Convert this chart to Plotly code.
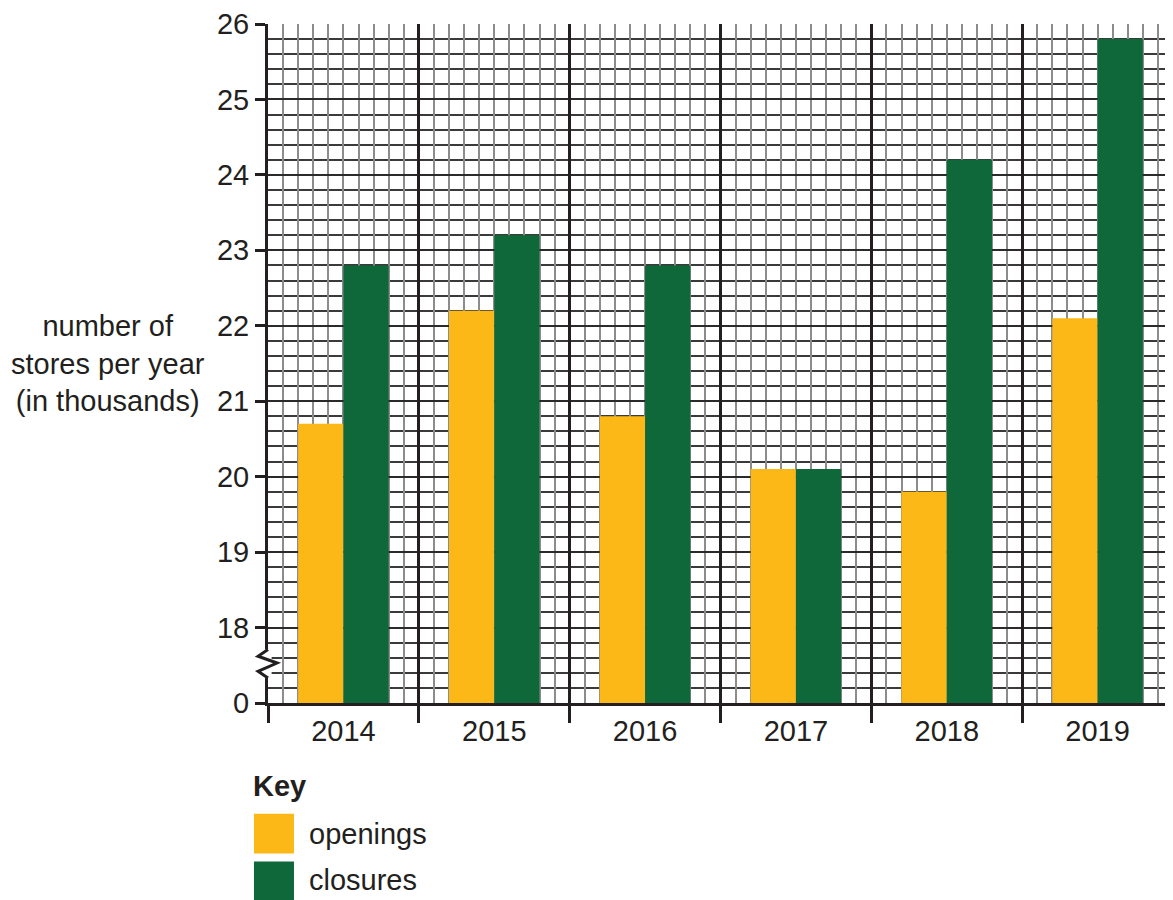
import plotly.graph_objects as go

years = ["2014", "2015", "2016", "2017", "2018", "2019"]
openings = [20.7, 22.2, 20.8, 20.1, 19.8, 22.1]
closures = [22.8, 23.2, 22.8, 20.1, 24.2, 25.8]
y_tickvals = [17, 18, 19, 20, 21, 22, 23, 24, 25, 26]
y_ticktext = ["0", "18", "19", "20", "21", "22", "23", "24", "25", "26"]

YELLOW = "#FBB817"
GREEN = "#0F6839"
INK = "#231F20"
FONT = "Liberation Sans, Arial, sans-serif"
FS = 29

fig = go.Figure()
fig.add_trace(go.Bar(x=years, y=openings, name="openings", marker=dict(color=YELLOW, line=dict(width=0)), showlegend=False))
fig.add_trace(go.Bar(x=years, y=closures, name="closures", marker=dict(color=GREEN, line=dict(width=0)), showlegend=False))

fig.update_layout(
    width=1165, height=892,
    margin=dict(l=260, r=0, t=14, b=197),
    paper_bgcolor="white", plot_bgcolor="white",
    barmode="group", bargap=0.4, bargroupgap=0,
    font=dict(family=FONT, size=FS, color=INK),
    xaxis=dict(
        type="category", showgrid=False, ticks="", showline=True, linecolor=INK, linewidth=3,
        tickfont=dict(size=FS, color=INK), ticklabelstandoff=0, zeroline=False,
    ),
    xaxis2=dict(
        overlaying="x", side="bottom", anchor="y", range=[-0.5, 5.5],
        tickmode="linear", tick0=-0.5, dtick=1, showticklabels=False,
        ticks="outside", ticklen=19, tickwidth=3, tickcolor=INK,
        showgrid=True, gridcolor=INK, gridwidth=2.5, zeroline=False, showline=False,
        minor=dict(tickmode="linear", tick0=-0.5, dtick=0.1, showgrid=True, gridcolor="#8C8C8C", gridwidth=1.6, ticks=""),
    ),
    yaxis=dict(
        range=[17, 26], tickmode="array", tickvals=y_tickvals, ticktext=y_ticktext,
        ticks="outside", ticklen=10, tickwidth=2.5, tickcolor=INK, ticklabeloverflow="allow",
        showgrid=True, gridcolor="#2A2A2A", gridwidth=2, zeroline=False,
        showline=True, linecolor=INK, linewidth=3,
        tickfont=dict(size=FS, color=INK),
        minor=dict(tickmode="linear", tick0=17, dtick=0.2, showgrid=True, gridcolor="#3A3A3A", gridwidth=1.6, ticks=""),
    ),
)

# invisible helper so the overlay axis is drawn
fig.add_trace(go.Scatter(x=[-0.5, 5.5], y=[17, 17], xaxis="x2", mode="none", hoverinfo="skip", showlegend=False))

# axis break (zigzag)
fig.add_shape(type="rect", xref="paper", yref="y", x0=-0.004, x1=0.004, y0=17.33, y1=17.71,
              fillcolor="white", line=dict(width=0), layer="above")
fig.add_shape(type="path", xref="paper", yref="y",
              path="M 0,17.71 L -0.011,17.62 L 0.010,17.53 L -0.011,17.42 L 0,17.33",
              line=dict(color=INK, width=3), layer="above")

# y axis title
fig.add_annotation(xref="paper", yref="paper", x=-0.177, y=0.5, xanchor="center", yanchor="middle",
                   text="number of<br>stores per year<br>(in thousands)", showarrow=False, align="center",
                   font=dict(size=FS, color=INK))

# key
fig.add_annotation(xref="paper", yref="paper", x=-0.019, y=-0.122, xanchor="left", yanchor="middle",
                   text="<b>Key</b>", showarrow=False, font=dict(size=FS, color=INK))
fig.add_shape(type="rect", xref="paper", yref="paper", x0=-0.0155, x1=0.0287, y0=-0.163, y1=-0.2217,
              fillcolor=YELLOW, line=dict(width=0))
fig.add_shape(type="rect", xref="paper", yref="paper", x0=-0.0155, x1=0.0287, y0=-0.2335, y1=-0.2922,
              fillcolor=GREEN, line=dict(width=0))
fig.add_annotation(xref="paper", yref="paper", x=0.043, y=-0.1924, xanchor="left", yanchor="middle",
                   text="openings", showarrow=False, font=dict(size=FS, color=INK))
fig.add_annotation(xref="paper", yref="paper", x=0.043, y=-0.2614, xanchor="left", yanchor="middle",
                   text="closures", showarrow=False, font=dict(size=FS, color=INK))

fig.write_html("out.html")
